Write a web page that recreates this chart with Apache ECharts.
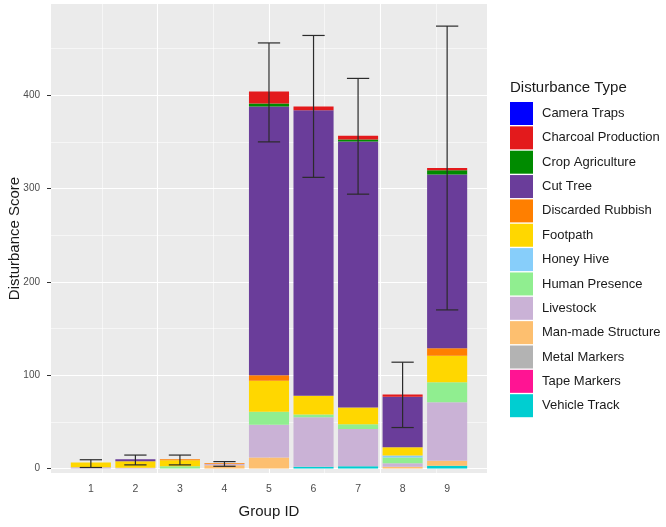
<!DOCTYPE html>
<html>
<head>
<meta charset="utf-8">
<script src="https://cdn.jsdelivr.net/npm/echarts@6/dist/echarts.min.js"></script>
<style>
html,body{margin:0;padding:0;background:#fff;}
#chart{width:666px;height:527px;}
</style>
</head>
<body>
<div id="chart"></div>
<script>
// ---- data ----
var groups = [1, 2, 3, 4, 5, 6, 7, 8, 9];
var xTickLabels = [1, 2, 3, 4, 5, 6, 7, 8, 9];
var yTickLabels = [0, 100, 200, 300, 400];
var yMinorGrid = [50, 150, 250, 350, 450];
var xMajorGrid = [2.5, 5, 7.5];
var xMinorGrid = [1.25, 3.75, 6.25, 8.75];

// legend order (top to bottom in legend)
var types = ['Camera Traps', 'Charcoal Production', 'Crop Agriculture', 'Cut Tree',
  'Discarded Rubbish', 'Footpath', 'Honey Hive', 'Human Presence', 'Livestock',
  'Man-made Structure', 'Metal Markers', 'Tape Markers', 'Vehicle Track'];

var cameraTraps        = [0, 0, 0, 0, 0, 0, 0, 0, 0];
var charcoalProduction = [0, 0, 0, 0, 13, 4, 4, 2.5, 2.5];
var cropAgriculture    = [0, 0, 0, 0, 3, 0, 2, 0, 4.5];
var cutTree            = [0, 2, 0, 0, 288, 306, 285, 54, 186];
var discardedRubbish   = [0, 0, 1, 0.7, 6, 0, 0, 0, 8];
var footpath           = [5, 7, 6.5, 0, 33, 20, 18, 9, 28.5];
var honeyHive          = [0, 0, 0, 0, 0, 0, 0, 2, 0];
var humanPresence      = [0, 0, 2.5, 0, 14, 3, 5, 6.3, 21.5];
var livestock          = [1.5, 1, 0, 1.5, 35, 53, 40, 3.7, 62.5];
var manMadeStructure   = [0, 0, 0, 3.5, 12, 0, 0, 2, 5.5];
var metalMarkers       = [0, 0, 0, 0, 0, 0, 0, 0, 0];
var tapeMarkers        = [0, 0, 0, 0, 0, 0, 0, 0, 0];
var vehicleTrack       = [0, 0, 0, 0, 0, 2, 2.5, 0, 3];

var errLow  = [1.2, 4, 4, 2.5, 350, 312, 294, 44, 170];
var errHigh = [9.5, 14.5, 14.5, 7.5, 456, 464, 418, 114, 474];

// ---- styling ----
var colors = {
  'Camera Traps': '#0000FF',
  'Charcoal Production': '#E31A1C',
  'Crop Agriculture': '#008B00',
  'Cut Tree': '#6A3D9A',
  'Discarded Rubbish': '#FF7F00',
  'Footpath': '#FFD700',
  'Honey Hive': '#87CEFA',
  'Human Presence': '#90EE90',
  'Livestock': '#CAB2D6',
  'Man-made Structure': '#FDBF6F',
  'Metal Markers': '#B3B3B3',
  'Tape Markers': '#FF1493',
  'Vehicle Track': '#00CED1'
};
var valuesByType = {
  'Camera Traps': cameraTraps,
  'Charcoal Production': charcoalProduction,
  'Crop Agriculture': cropAgriculture,
  'Cut Tree': cutTree,
  'Discarded Rubbish': discardedRubbish,
  'Footpath': footpath,
  'Honey Hive': honeyHive,
  'Human Presence': humanPresence,
  'Livestock': livestock,
  'Man-made Structure': manMadeStructure,
  'Metal Markers': metalMarkers,
  'Tape Markers': tapeMarkers,
  'Vehicle Track': vehicleTrack
};

var FONT = "'Liberation Sans', Arial, sans-serif";
var xMin = 0.105, xMax = 9.895;
var yMin = -4.7, yMax = 497.7;

// stacking: last legend entry at bottom
var stackOrder = types.slice().reverse();
var series = stackOrder.map(function (t) {
  return {
    name: t,
    type: 'bar',
    stack: 'total',
    xAxisIndex: 0,
    yAxisIndex: 0,
    barWidth: '90%',
    itemStyle: { color: colors[t] },
    z: 2,
    // value first so that the stack is computed on the y dimension
    encode: { x: 1, y: 0 },
    data: groups.map(function (g, i) { return [valuesByType[t][i], g]; })
  };
});

series.push({
  name: 'errorbars',
  type: 'custom',
  xAxisIndex: 0,
  yAxisIndex: 0,
  z: 5,
  encode: { x: 0, y: [1, 2] },
  data: groups.map(function (g, i) { return [g, errLow[i], errHigh[i]]; }),
  renderItem: function (params, api) {
    var x = api.value(0);
    var pLo = api.coord([x, api.value(1)]);
    var pHi = api.coord([x, api.value(2)]);
    var half = api.size([0.5, 0])[0] / 2;
    var st = { stroke: '#2B2B2B', lineWidth: 1.2 };
    return {
      type: 'group',
      children: [
        { type: 'line', shape: { x1: pHi[0], y1: pHi[1], x2: pLo[0], y2: pLo[1] }, style: st },
        { type: 'line', shape: { x1: pHi[0] - half, y1: pHi[1], x2: pHi[0] + half, y2: pHi[1] }, style: st },
        { type: 'line', shape: { x1: pLo[0] - half, y1: pLo[1], x2: pLo[0] + half, y2: pLo[1] }, style: st }
      ]
    };
  }
});

function hiddenAxis(min, max, vals, width) {
  return {
    type: 'value', min: min, max: max,
    axisLine: { show: false },
    axisTick: { show: false, customValues: vals },
    axisLabel: { show: false },
    splitLine: { show: true, lineStyle: { color: '#FFFFFF', width: width } }
  };
}

var option = {
  animation: false,
  backgroundColor: '#FFFFFF',
  title: {
    text: 'Disturbance Type',
    left: 510, top: 80, padding: 0,
    textStyle: { fontFamily: FONT, fontSize: 15, fontWeight: 'normal', color: '#1A1A1A' }
  },
  legend: {
    orient: 'vertical',
    left: 510, top: 102,
    padding: 0,
    itemWidth: 23, itemHeight: 23, itemGap: 1.35,
    icon: 'rect',
    selectedMode: false,
    data: types,
    textStyle: { fontFamily: FONT, fontSize: 13, color: '#1A1A1A', padding: [0, 0, 0, 4] }
  },
  grid: {
    left: 51, right: 179, top: 4, bottom: 54,
    show: true, backgroundColor: '#EBEBEB', borderWidth: 0,
    containLabel: false, outerBoundsMode: 'none'
  },
  xAxis: [
    {
      type: 'value', min: xMin, max: xMax,
      name: 'Group ID', nameLocation: 'middle', nameGap: 31, nameMoveOverlap: false,
      nameTextStyle: { fontFamily: FONT, fontSize: 15, color: '#1A1A1A' },
      axisLine: { show: false },
      axisTick: { show: false, customValues: xTickLabels },
      axisLabel: { customValues: xTickLabels, margin: 11, fontFamily: FONT, fontSize: 10.5, color: '#4D4D4D' },
      splitLine: { show: false }
    },
    hiddenAxis(xMin, xMax, xMajorGrid, 1.1),
    hiddenAxis(xMin, xMax, xMinorGrid, 0.55)
  ],
  yAxis: [
    {
      type: 'value', min: yMin, max: yMax,
      name: 'Disturbance Score', nameLocation: 'middle', nameGap: 29, nameMoveOverlap: false,
      nameTextStyle: { fontFamily: FONT, fontSize: 15, color: '#1A1A1A' },
      axisLine: { show: false },
      axisTick: { show: true, length: 4, customValues: yTickLabels, lineStyle: { color: '#333333', width: 1 } },
      axisLabel: { customValues: yTickLabels, margin: 11, fontFamily: FONT, fontSize: 10, color: '#4D4D4D' },
      splitLine: { show: true, lineStyle: { color: '#FFFFFF', width: 1.1 } }
    },
    hiddenAxis(yMin, yMax, yMinorGrid, 0.55)
  ],
  series: series
};

var chart = echarts.init(document.getElementById('chart'), null, { renderer: 'canvas' });
chart.setOption(option);
</script>
</body>
</html>
